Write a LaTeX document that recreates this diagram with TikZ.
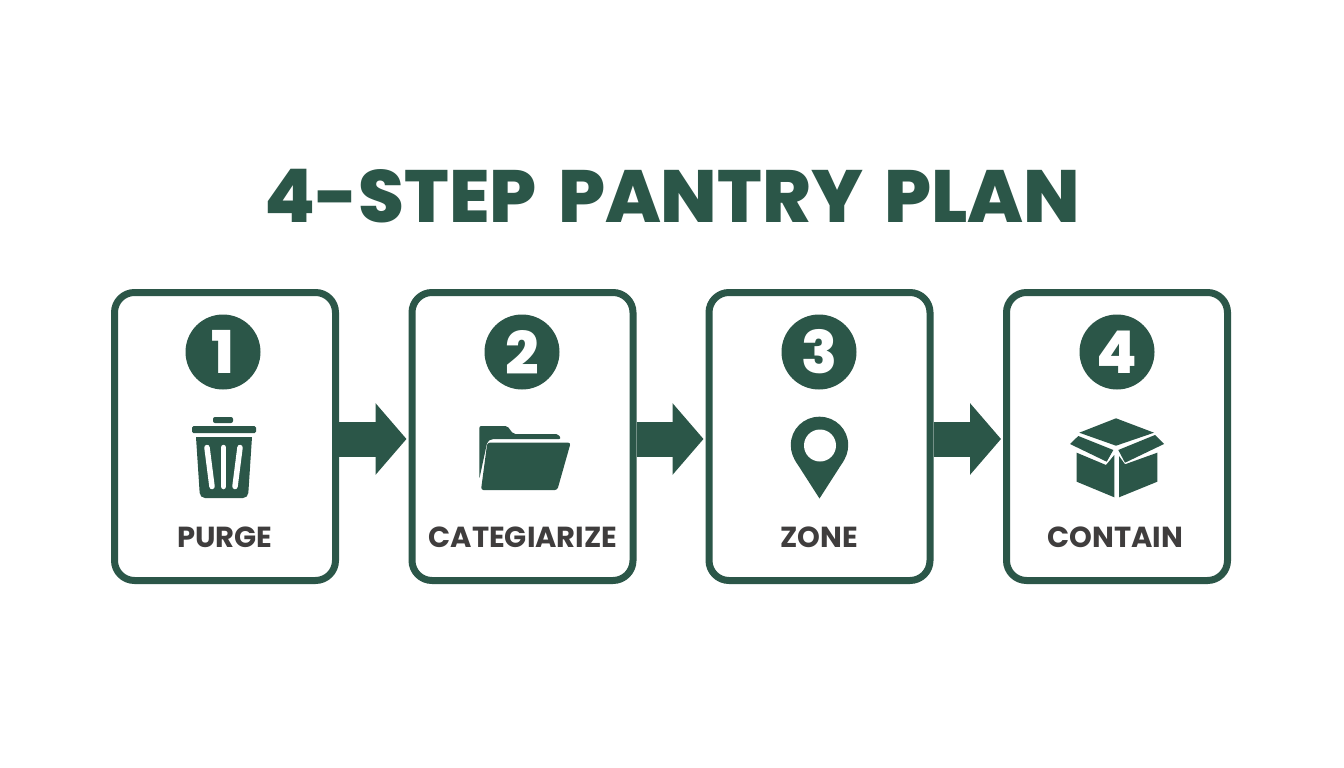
\documentclass[tikz,border=0pt]{standalone}
\usepackage{fontspec}
\setmainfont{Poppins}[BoldFont={Poppins ExtraBold}]
\newfontfamily\titlefont{Poppins ExtraBold}[WordSpace=1.5]
\newfontfamily\labelfont{Poppins Bold}
\usetikzlibrary{arrows.meta}
\definecolor{pinegreen}{HTML}{2B5648}
\definecolor{labelgrey}{HTML}{3F3D3D}
\tikzset{
    stepbox/.style={draw=pinegreen, line width=7pt, rounded corners=20pt, minimum width=221pt, minimum height=288pt, inner sep=0pt},
    numdot/.style={circle, fill=pinegreen, text=white, minimum size=75pt, inner sep=0pt, font=\bfseries\fontsize{59}{59}\selectfont},
    steplabel/.style={text=labelgrey, inner sep=0pt, font=\labelfont\fontsize{29}{29}\selectfont},
    steparrow/.style={pinegreen, line width=35pt, -{Triangle[length=31pt,width=70pt]}, shorten >=2pt}
}
\begin{document}
\begin{tikzpicture}[x=1pt,y=-1pt]
    \useasboundingbox (0,0) rectangle (1344,768);
    \fill[white] (0,0) rectangle (1344,768);
    \node[text=pinegreen, inner sep=0pt, font=\titlefont\fontsize{74}{74}\selectfont] (title) at (672.5,196) {4-STEP PANTRY PLAN};
    % boxes
    \node[stepbox] (purge) at (225,436.5) {};
    \node[stepbox] (categorize) at (522.5,436.5) {};
    \node[stepbox] (zone) at (819.5,436.5) {};
    \node[stepbox] (contain) at (1117,436.5) {};
    % arrows
    \draw[steparrow] ([yshift=-2.5pt]purge.east) -- ([yshift=-2.5pt]categorize.west);
    \draw[steparrow] ([yshift=-2.5pt]categorize.east) -- ([yshift=-2.5pt]zone.west);
    \draw[steparrow] ([yshift=-2.5pt]zone.east) -- ([yshift=-2.5pt]contain.west);
    % numbers
    \node[numdot] (num1) at (223,352) {1};
    \node[numdot] (num2) at (522,352) {2};
    \node[numdot] (num3) at (819,352) {3};
    \node[numdot] (num4) at (1117,352) {4};
    % labels
    \node[steplabel] (label1) at (225,537) {PURGE};
    \node[steplabel] (label2) at (523,537) {CATEGIARIZE};
    \node[steplabel] (label3) at (819,537) {ZONE};
    \node[steplabel] (label4) at (1115.5,537) {CONTAIN};
    % trash can
    \fill[pinegreen, rounded corners=2pt] (213,423) -- (213,417) -- (233,417) -- (233,423) -- cycle;
    \fill[pinegreen, rounded corners=1.5pt] (192,426) rectangle (256,433);
    \fill[pinegreen] (196,437) -- (252,437) [rounded corners=5pt] -- (248,498) -- (200,498) [sharp corners] -- cycle;
    \draw[white, line width=5.5pt, line cap=round] (207,447.5) -- (212,486.5);
    \draw[white, line width=5.5pt, line cap=round] (223.5,447.5) -- (223.5,486.5);
    \draw[white, line width=5.5pt, line cap=round] (240,447.5) -- (235,486.5);
    % folder
    \fill[pinegreen, rounded corners=2pt] (479.3,426) -- (507.3,426) -- (513.3,434) -- (558.3,434) -- (561,439) -- (491.7,439) -- (487.3,441.7) -- (479.3,479) -- cycle;
    \fill[pinegreen, rounded corners=2.5pt] (487.3,442.7) -- (570.7,442.7) -- (557.3,490) -- (481,490) -- cycle;
    % pin
    \fill[pinegreen] (819.5,498.5) -- (798,465) .. controls (793,458) and (790.8,452) .. (790.8,445) .. controls (790.8,429.2) and (803.6,416.7) .. (819.5,416.7) .. controls (835.4,416.7) and (848.2,429.2) .. (848.2,445) .. controls (848.2,452) and (846,458) .. (841,465) -- cycle;
    \fill[white] (820,445.5) circle (16pt);
    % carton
    \fill[pinegreen] (1116,418.3) -- (1154,432.7) -- (1116,445.7) -- (1079.3,432.7) -- cycle;
    \fill[pinegreen] (1078.3,436) -- (1070,444) -- (1106.7,461.7) -- (1113.3,450) -- cycle;
    \fill[pinegreen] (1155,435) -- (1164,444) -- (1125,462.7) -- (1118.3,450) -- cycle;
    \fill[pinegreen] (1076.7,452.7) -- (1106,465) -- (1114.3,455) -- (1114.3,497.3) -- (1076.7,481.7) -- cycle;
    \fill[pinegreen] (1119,456) -- (1125,464.3) -- (1157.3,452.7) -- (1157.3,481.7) -- (1119,497.3) -- cycle;
\end{tikzpicture}
\end{document}
